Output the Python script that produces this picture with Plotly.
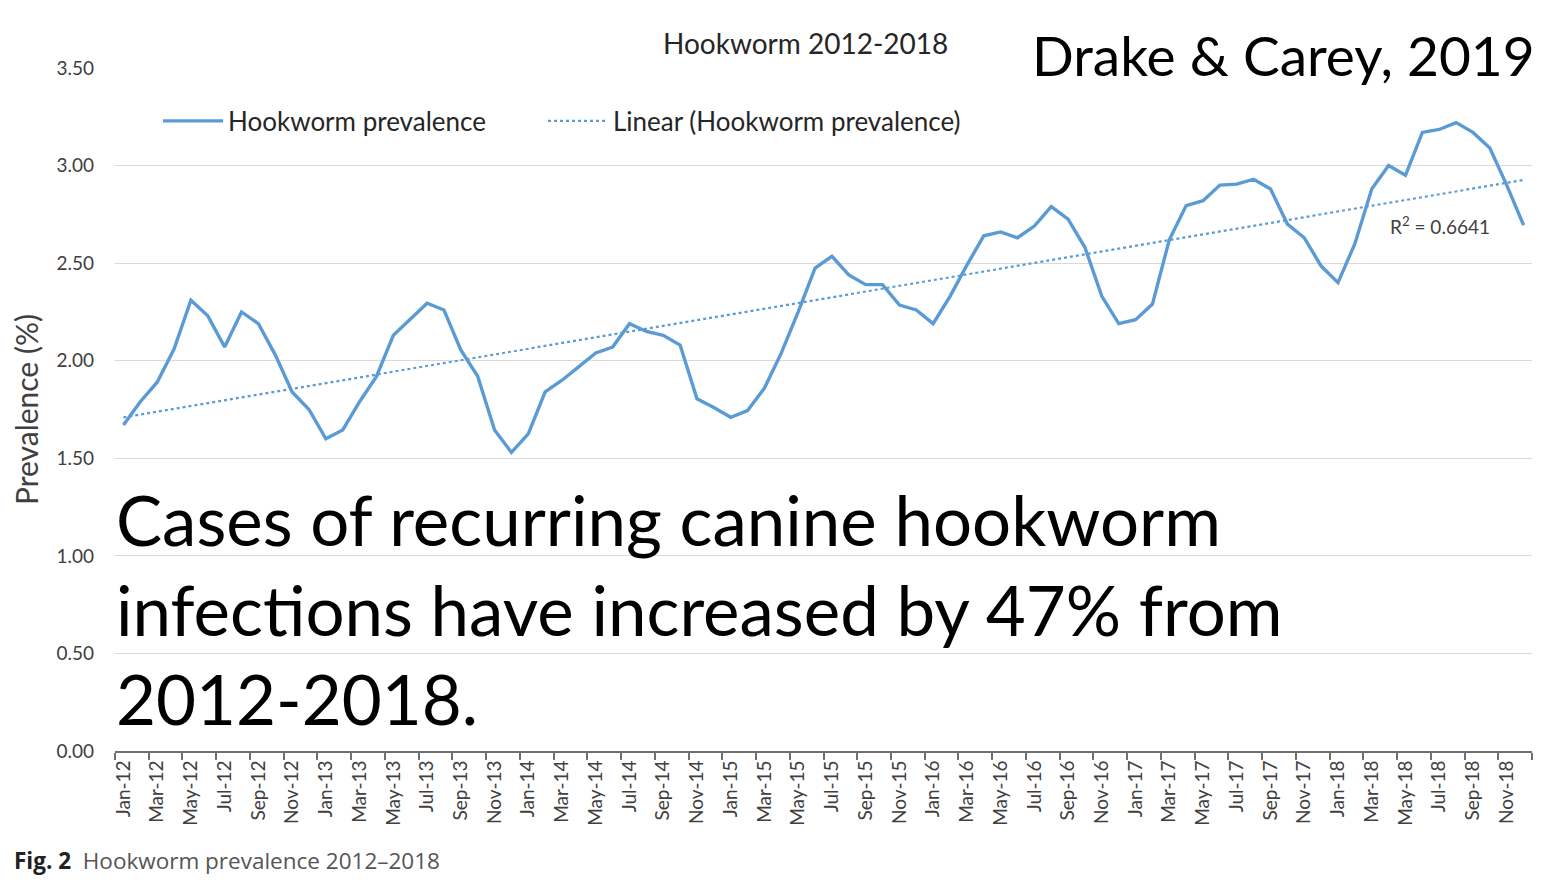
import numpy as np
import plotly.graph_objects as go

months = ["Jan", "Feb", "Mar", "Apr", "May", "Jun", "Jul", "Aug", "Sep", "Oct", "Nov", "Dec"]
years = ["12", "13", "14", "15", "16", "17", "18"]
month_labels = [f"{m}-{y}" for y in years for m in months]

prevalence = [
    1.67, 1.79, 1.89, 2.06, 2.31, 2.23, 2.07, 2.25, 2.19, 2.03, 1.84, 1.75,
    1.60, 1.645, 1.79, 1.92, 2.13, 2.21, 2.295, 2.26, 2.055, 1.92, 1.645, 1.53,
    1.625, 1.84, 1.90, 1.97, 2.04, 2.07, 2.19, 2.15, 2.13, 2.08, 1.805, 1.76,
    1.71, 1.745, 1.86, 2.04, 2.25, 2.475, 2.535, 2.44, 2.39, 2.39, 2.285, 2.26,
    2.19, 2.33, 2.49, 2.64, 2.66, 2.63, 2.69, 2.79, 2.725, 2.58, 2.33, 2.19,
    2.21, 2.29, 2.62, 2.795, 2.82, 2.90, 2.905, 2.93, 2.88, 2.70, 2.63, 2.485,
    2.40, 2.60, 2.88, 3.00, 2.95, 3.17, 3.185, 3.22, 3.17, 3.09, 2.90, 2.695,
]

y_ticks = [0.0, 0.5, 1.0, 1.5, 2.0, 2.5, 3.0, 3.5]

x = np.arange(len(prevalence))
slope, intercept = np.polyfit(x, prevalence, 1)
trend = slope * x + intercept

blue = "#5B9BD5"
font_family = "Lato, Open Sans, sans-serif"

# page has an 8px body margin; plot area should sit at screen x 115-1532, y 68-751
W, H = 1543, 874
L, T = 107, 60
PW, PH = 1417, 683


def px(sx):
    return (sx - 115) / PW


def py(sy):
    return (751 - sy) / PH


legend_font = dict(size=26, color="#262626", family=font_family)

fig = go.Figure()
fig.add_trace(go.Scatter(
    x=x, y=prevalence, mode="lines", name="Hookworm prevalence",
    line=dict(color=blue, width=3.4), legend="legend",
))
fig.add_trace(go.Scatter(
    x=x, y=trend, mode="lines", name="Linear (Hookworm prevalence)",
    line=dict(color=blue, width=2.2, dash="dot"), legend="legend2",
))

fig.update_layout(
    width=W, height=H,
    margin=dict(l=L, r=W - L - PW, t=T, b=H - T - PH, autoexpand=False),
    paper_bgcolor="white", plot_bgcolor="white",
    font=dict(family=font_family, color="#404040"),
    showlegend=True,
    legend=dict(
        orientation="h", x=px(158), y=py(121), xanchor="left", yanchor="middle",
        font=legend_font, bgcolor="rgba(0,0,0,0)", itemwidth=60,
    ),
    legend2=dict(
        orientation="h", x=px(543), y=py(121), xanchor="left", yanchor="middle",
        font=legend_font, bgcolor="rgba(0,0,0,0)", itemwidth=60,
    ),
    xaxis=dict(
        range=[-0.5, len(prevalence) - 0.5],
        tickmode="array",
        tickvals=list(x[::2]),
        ticktext=month_labels[::2],
        tickangle=-90,
        ticks="",
        showgrid=False,
        zeroline=False,
        showline=True, linecolor="#6F6F6F", linewidth=1.6,
        tickfont=dict(size=19, color="#404040", family=font_family),
        minor=dict(tickmode="linear", tick0=-0.5, dtick=2, ticks="outside",
                   ticklen=7, tickwidth=1.6, tickcolor="#6F6F6F", showgrid=False),
        fixedrange=True,
    ),
    yaxis=dict(
        range=[0, 3.5],
        tickmode="array",
        tickvals=y_ticks,
        ticktext=[f"{v:.2f}" for v in y_ticks],
        showgrid=True, gridcolor="#D9D9D9", gridwidth=1.2,
        zeroline=False, showline=False, ticks="",
        ticklabelstandoff=20,
        tickfont=dict(size=19, color="#404040", family=font_family),
        title=dict(text="Prevalence (%)", standoff=12,
                   font=dict(size=30, color="#404040", family=font_family)),
    ),
)

fig.add_annotation(
    text="Hookworm 2012-2018", xref="paper", yref="paper",
    x=px(805), y=py(43), xanchor="center", yanchor="middle",
    showarrow=False, font=dict(size=28, color="#262626", family=font_family),
)
fig.add_annotation(
    text="Drake & Carey, 2019", xref="paper", yref="paper",
    x=px(1030), y=py(55), xanchor="left", yanchor="middle",
    showarrow=False, font=dict(size=55, color="black", family=font_family),
)
fig.add_annotation(
    text="R<sup>2</sup> = 0.6641", xref="paper", yref="paper",
    x=px(1440), y=py(225), xanchor="center", yanchor="middle",
    showarrow=False, font=dict(size=19, color="#404040", family=font_family),
)
fig.add_annotation(
    text="Cases of recurring canine hookworm<br>infections have increased by 47% from<br>2012-2018.",
    xref="paper", yref="paper",
    x=px(114), y=py(476), xanchor="left", yanchor="top",
    align="left", showarrow=False,
    font=dict(size=69, color="black", family=font_family),
)
fig.add_annotation(
    text="<span style='color:#222222'><b>Fig. 2</b></span>  Hookworm prevalence 2012\u20132018",
    xref="paper", yref="paper",
    x=px(12), y=py(860), xanchor="left", yanchor="middle",
    align="left", showarrow=False,
    font=dict(size=22.5, color="#555555", family="Open Sans, sans-serif"),
)

fig.write_html("out.html")
